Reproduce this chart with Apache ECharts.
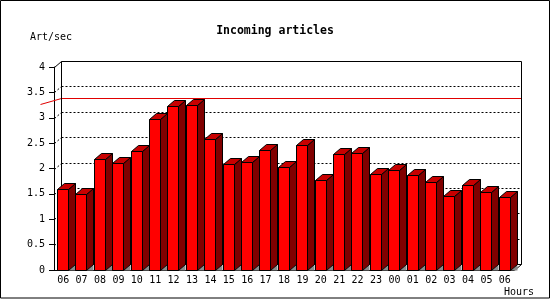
<!DOCTYPE html>
<html>
<head>
<meta charset="utf-8">
<script src="https://cdn.jsdelivr.net/npm/echarts@6/dist/echarts.min.js"></script>
<style>
  html, body { margin: 0; padding: 0; background: #fff; }
  #chart { width: 550px; height: 300px; }
</style>
</head>
<body>
<div id="chart"></div>
<script>
  // hours of the day (x categories)
  const hours = ['06', '07', '08', '09', '10', '11', '12', '13', '14', '15', '16', '17', '18',
                 '19', '20', '21', '22', '23', '00', '01', '02', '03', '04', '05', '06'];
  // incoming articles per second
  const artPerSec = [1.60, 1.50, 2.18, 2.10, 2.34, 2.97, 3.24, 3.26, 2.59, 2.08, 2.12, 2.36, 2.03,
                     2.47, 1.78, 2.28, 2.30, 1.90, 1.98, 1.88, 1.73, 1.46, 1.68, 1.53, 1.43];
  // y axis ticks and the red reference line
  const yTicks = [0, 0.5, 1, 1.5, 2, 2.5, 3, 3.5, 4];
  const peakLine = 3.27;

  const yMin = yTicks[0], yMax = yTicks[yTicks.length - 1];
  const DX = 7, DY = 6;   // fake 3d depth
  const font = 'DejaVu Sans Mono';

  function crisp(v) { return Math.round(v) + 0.5; }

  // back wall, floor edge, dotted grid, red line
  function renderFrame(params, api) {
    const bw = api.size([1, 0])[0];
    const fl = crisp(api.coord([0, yMax])[0] - bw / 2);
    const fr = crisp(api.coord([hours.length - 1, yMax])[0] + bw / 2);
    const ft = crisp(api.coord([0, yMax])[1]);
    const fb = crisp(api.coord([0, yMin])[1]);
    const L = fl + DX, R = fr + DX, T = ft - DY, B = fb - DY;
    const blk = { stroke: '#000', lineWidth: 1, fill: null };
    const kids = [];

    yTicks.forEach(function (v) {
      if (v === yMin || v === yMax) return;
      const y = crisp(api.coord([0, v])[1]) - DY;
      const dot = { stroke: '#000', lineWidth: 1, lineDash: [2, 2] };
      kids.push({ type: 'line', shape: { x1: L, y1: y, x2: R, y2: y }, style: dot });
      kids.push({ type: 'line', shape: { x1: fl, y1: y + DY, x2: L, y2: y }, style: dot });
    });

    const ry = crisp(api.coord([0, peakLine])[1]) - DY;
    kids.push({ type: 'line', shape: { x1: L, y1: ry, x2: R, y2: ry }, style: { stroke: '#e00000', lineWidth: 1 } });
    kids.push({ type: 'line', shape: { x1: L, y1: ry, x2: fl - 14, y2: ry + DY }, style: { stroke: '#e00000', lineWidth: 1 } });

    kids.push({ type: 'polyline', shape: { points: [[L, B], [L, T], [R, T], [R, B], [L, B]] }, style: blk });
    kids.push({ type: 'line', shape: { x1: fl, y1: ft, x2: L, y2: T }, style: blk });
    kids.push({ type: 'line', shape: { x1: fr, y1: fb, x2: R, y2: B }, style: blk });

    return { type: 'group', children: kids };
  }

  // one 3d bar: front face, top, side and floor shadow
  function renderBar(params, api) {
    const i = api.value(0);
    const top = api.coord([i, api.value(1)]);
    const base = api.coord([i, 0]);
    const bw = api.size([1, 0])[0];
    const x0 = crisp(top[0] - bw / 2 + 3);
    const x1 = x0 + Math.round(bw * 0.58);
    const yt = crisp(top[1]);
    const yb = crisp(base[1]);
    const line = { stroke: '#000', lineWidth: 1 };
    return {
      type: 'group',
      children: [
        { type: 'polygon', shape: { points: [[x1, yb], [x1 + DX, yb - DY], [x1 + DX, yb]] },
          style: { fill: '#8c8c8c' } },
        { type: 'polygon', shape: { points: [[x1, yt], [x1 + DX, yt - DY], [x1 + DX, yb - DY], [x1, yb]] },
          style: Object.assign({ fill: '#800000' }, line) },
        { type: 'polygon', shape: { points: [[x0, yt], [x0 + DX, yt - DY], [x1 + DX, yt - DY], [x1, yt]] },
          style: Object.assign({ fill: '#c80000' }, line) },
        { type: 'rect', shape: { x: x0, y: yt, width: x1 - x0, height: yb - yt },
          style: Object.assign({ fill: '#ff0000' }, line) }
      ]
    };
  }

  const chart = echarts.init(document.getElementById('chart'));
  chart.setOption({
    backgroundColor: '#fff',
    animation: false,
    title: {
      text: 'Incoming articles',
      left: 'center',
      top: 20,
      textStyle: { fontFamily: font, fontSize: 11.5, fontWeight: 'bold', color: '#000' }
    },
    graphic: [
      { type: 'rect', shape: { x: 0.5, y: 0.5, width: 549, height: 297.5 },
        style: { fill: null, stroke: '#000', lineWidth: 1 } },
      { type: 'text', left: 30, top: 32,
        style: { text: 'Art/sec', font: '10px ' + font, fill: '#000' } },
      { type: 'text', left: 504, top: 287,
        style: { text: 'Hours', font: '10px ' + font, fill: '#000' } }
    ],
    grid: { left: 54, right: 36, top: 67, bottom: 30 },
    xAxis: {
      type: 'category',
      data: hours,
      boundaryGap: true,
      axisLine: { lineStyle: { color: '#000', width: 1 } },
      axisTick: { length: 4, lineStyle: { color: '#000' } },
      axisLabel: { color: '#000', fontFamily: font, fontSize: 10, margin: 5, interval: 0 },
      splitLine: { show: false }
    },
    yAxis: {
      type: 'value',
      min: yMin,
      max: yMax,
      interval: 0.5,
      axisLine: { show: true, lineStyle: { color: '#000', width: 1 } },
      axisTick: { show: true, length: 5, lineStyle: { color: '#000' } },
      axisLabel: { color: '#000', fontFamily: font, fontSize: 10, margin: 9 },
      splitLine: { show: false }
    },
    series: [
      {
        type: 'custom',
        renderItem: renderFrame,
        data: [[0, 0]],
        z: 1,
        silent: true
      },
      {
        type: 'custom',
        renderItem: renderBar,
        encode: { x: 0, y: 1 },
        data: artPerSec.map(function (v, i) { return [i, v]; }),
        z: 2
      }
    ]
  });
</script>
</body>
</html>
